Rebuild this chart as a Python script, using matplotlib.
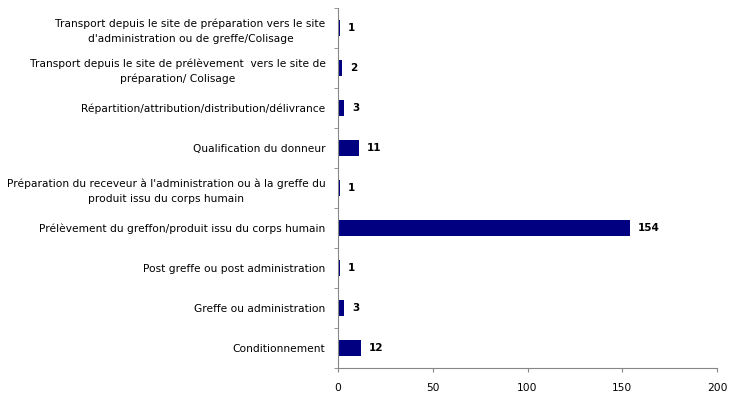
import matplotlib
matplotlib.use("Agg")
import matplotlib.pyplot as plt
import numpy as np

# Categories from bottom to top, as they appear in the chart
categories = [
    "Conditionnement",
    "Greffe ou administration",
    "Post greffe ou post administration",
    "Prélèvement du greffon/produit issu du corps humain",
    "Préparation du receveur à l'administration ou à la greffe du\nproduit issu du corps humain",
    "Qualification du donneur",
    "Répartition/attribution/distribution/délivrance",
    "Transport depuis le site de prélèvement  vers le site de\npréparation/ Colisage",
    "Transport depuis le site de préparation vers le site\nd'administration ou de greffe/Colisage",
]
counts = [12, 3, 1, 154, 1, 11, 3, 2, 1]
x_ticks = [0, 50, 100, 150, 200]

bar_color = "#000080"
axis_color = "#868686"

fig = plt.figure(figsize=(7.34, 3.98), dpi=100)
ax = fig.add_axes([338 / 734, 1 - 368 / 398, (717 - 338) / 734, 360 / 398])

y = np.arange(len(categories))
ax.barh(y, counts, height=0.4, color=bar_color)

# value labels at the end of each bar
for yi, val in zip(y, counts):
    ax.annotate(str(val), xy=(val, yi), xytext=(6, 0), textcoords="offset points",
                ha="left", va="center", fontsize=7.5, fontweight="bold", color="black")

ax.set_xlim(0, 200)
ax.set_ylim(-0.5, len(categories) - 0.5)
ax.set_xticks(x_ticks)
ax.set_yticks(y)
ax.set_yticklabels(categories, fontsize=7.7, multialignment="center", linespacing=1.55)
ax.set_yticks(np.arange(-0.5, len(categories), 1), minor=True)

ax.tick_params(axis="y", which="major", length=0, pad=9)
ax.tick_params(axis="y", which="minor", length=3, color=axis_color, direction="out")
ax.tick_params(axis="x", length=3, color=axis_color, direction="out", pad=8, labelsize=7.7)

for side in ["top", "right"]:
    ax.spines[side].set_visible(False)
for side in ["left", "bottom"]:
    ax.spines[side].set_color(axis_color)
    ax.spines[side].set_linewidth(0.8)

fig.savefig("out.png", dpi=100)
